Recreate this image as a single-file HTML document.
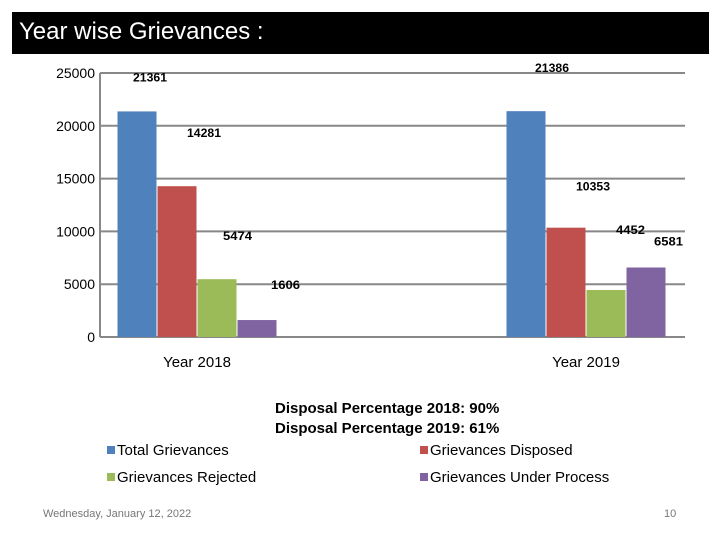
<!DOCTYPE html>
<html><head><meta charset="utf-8"><style>
body{margin:0;background:#fff;}
#wrap{position:relative;width:720px;height:540px;overflow:hidden;font-family:"Liberation Sans",sans-serif;}
.t{position:absolute;white-space:nowrap;}
</style></head><body>
<div id="wrap">
<div style="position:absolute;left:12px;top:12px;width:697px;height:42px;background:#000;"></div>
<div class="t" style="left:19px;top:18px;color:#fff;font-size:24px;">Year wise Grievances :</div>
<svg id="chart" width="720" height="540" style="position:absolute;left:0;top:0"></svg>
<div class="t" style="left:275px;top:400px;font-size:15px;font-weight:bold;">Disposal Percentage 2018: 90%</div>
<div class="t" style="left:275px;top:420px;font-size:15px;font-weight:bold;">Disposal Percentage 2019: 61%</div>
<div class="t" style="left:43px;top:508px;font-size:11px;color:#777;">Wednesday, January 12, 2022</div>
<div class="t" style="left:664px;top:508px;font-size:11px;color:#777;">10</div>
</div>
<script>
const categories=["Year 2018","Year 2019"];
const seriesNames=["Total Grievances","Grievances Disposed","Grievances Rejected","Grievances Under Process"];
const totalVals=[21361,21386];
const disposedVals=[14281,10353];
const rejectedVals=[5474,4452];
const underProcessVals=[1606,6581];
const yTicks=[0,5000,10000,15000,20000,25000];
const colors=["#4f81bd","#c0504d","#9bbb59","#8064a2"];
const series=[totalVals,disposedVals,rejectedVals,underProcessVals];
const NS="http://www.w3.org/2000/svg";
const svg=document.getElementById('chart');
const x0=100,x1=685,yTop=73,yBot=337,yMax=25000;
const y=v=>yBot-(v/yMax)*(yBot-yTop);
const barW=40;
const groupStep=389, firstCenter=197;
function mk(tag,a){const e=document.createElementNS(NS,tag);for(const k in a)e.setAttribute(k,a[k]);svg.appendChild(e);return e;}
yTicks.forEach(t=>{
 const l=mk('line',{x1:x0,x2:x1,y1:y(t),y2:y(t),stroke:'#888','stroke-width':2});
 
 
 const tx=mk('text',{x:95,y:y(t)+5,'text-anchor':'end','font-size':14,'font-family':'Liberation Sans, sans-serif'});
 tx.textContent=t;
 
 
});
mk('line',{x1:x0,x2:x0,y1:yTop,y2:yBot,stroke:'#888','stroke-width':2});
// label offsets relative to bar left / bar top, per category then series
const labelDx=[[16,30,26,34],[29,30,30,28]];
const labelDy=[[-30,-49,-39,-31],[-39,-37,-56,-22]];
categories.forEach((c,i)=>{
 const cx=firstCenter+groupStep*i;
 const start=cx-2*barW;
 series.forEach((s,j)=>{
  const bx=start+j*barW;
  const r=mk('rect',{x:bx+0.5,y:y(s[i]),width:barW-1,height:yBot-y(s[i]),fill:colors[j]});
  
  
  const lt=mk('text',{x:bx+labelDx[i][j],y:y(s[i])+labelDy[i][j],'font-size':12,'font-weight':'bold','font-family':'Liberation Sans, sans-serif',textLength:34,lengthAdjust:'spacingAndGlyphs'});
  lt.textContent=s[i];
  if(String(s[i]).length<5) lt.setAttribute('textLength',29);
  
  
 });
 const ct=mk('text',{x:cx,y:367,'text-anchor':'middle','font-size':15,'font-family':'Liberation Sans, sans-serif'});
 ct.textContent=c;
 
 
});
const legPos=[[107,450],[420,450],[107,477],[420,477]];
seriesNames.forEach((n,j)=>{
 const [lx,ly]=legPos[j];
 const sq=mk('rect',{x:lx,y:ly-4,width:8,height:8,fill:colors[j]});
 
 
 const lt=mk('text',{x:lx+10,y:ly+5,'font-size':15,'font-family':'Liberation Sans, sans-serif'});
 lt.textContent=n;
 
 
});
</script>
</body></html>
